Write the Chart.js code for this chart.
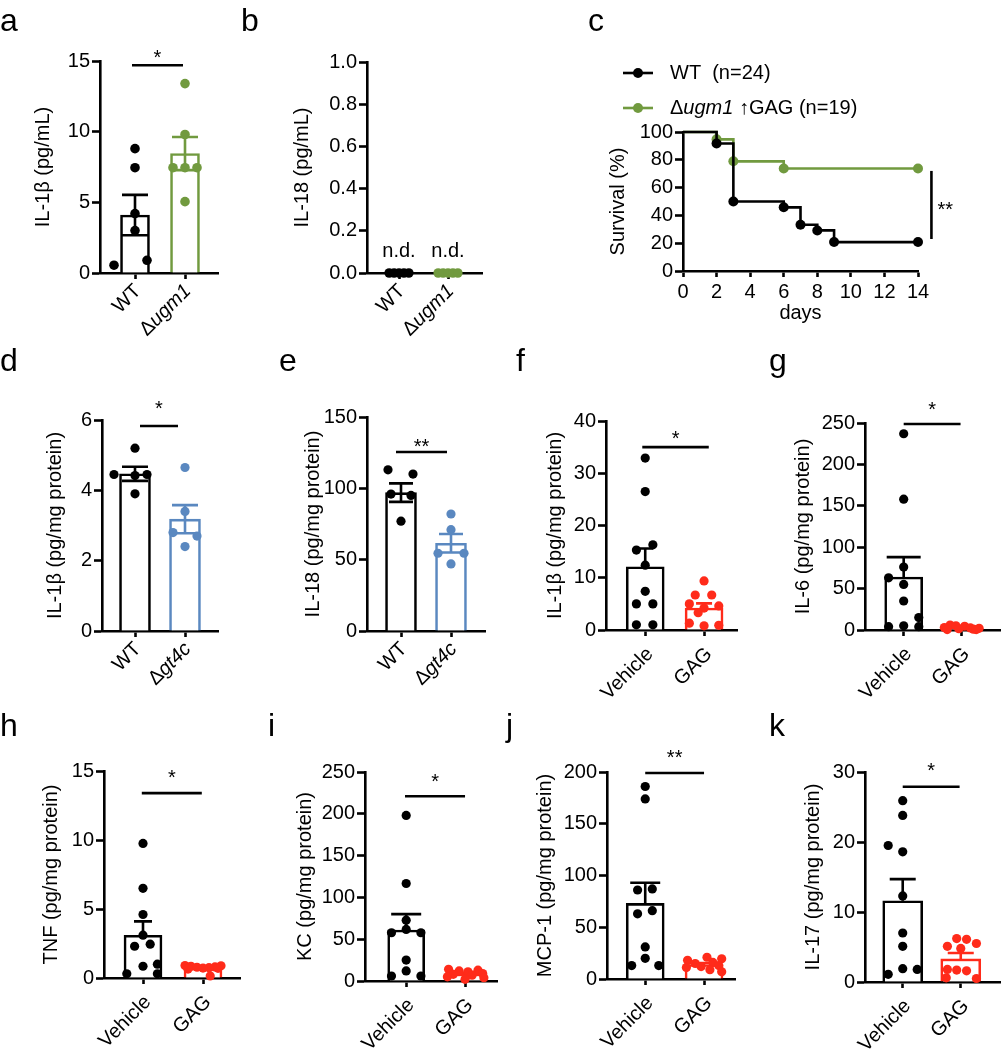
<!DOCTYPE html>
<html lang="en">
<head>
<meta charset="utf-8">
<title>Cytokines and survival</title>
<script src="https://cdn.jsdelivr.net/npm/chart.js"></script>
<style>
body { margin: 0; background: #fff; }
#fig { position: relative; width: 1005px; height: 1050px; overflow: hidden; }
#fig canvas { position: absolute; }
.tag { position: absolute; font: 32px "Liberation Sans", Arial, sans-serif; line-height: 1; }
</style>
</head>
<body>
<div id="fig"></div>

<script>
const FONT = '"Liberation Sans", Arial, Helvetica, sans-serif';
Chart.defaults.font.family = FONT;
Chart.defaults.color = '#000';

const BLACK = '#000000', GREEN = '#719a3f', BLUE = '#5a88c0', RED = '#ff2b1a';

// a - serum IL-1b
const aCats = ['WT', 'Δugm1'];
const aWT = [8.8, 7.45, 4.2, 3.0, 0.55, 0.9];
const aWTx = [0, 0, 0, 0, -0.42, 0.24];
const aKO = [13.4, 9.8, 7.45, 7.45, 7.45, 5.05];
const aKOx = [0, 0, -0.24, 0, 0.24, 0];
const aMean = [4.1, 8.45];
const aSem = [1.43, 1.17];

// b - serum IL-18, not detected
const bCats = ['WT', 'Δugm1'];
const bWT = [0, 0, 0, 0, 0];
const bKO = [0, 0, 0, 0, 0];
const bJit = [-0.2, -0.1, 0, 0.1, 0.2];

// c - survival
const cWTDays = [0, 2, 3, 6, 7, 8, 9, 14];
const cWT = [100, 91.7, 50, 45.8, 33.3, 29.2, 20.8, 20.8];
const cKODays = [0, 2, 3, 6, 14];
const cKO = [100, 94.7, 78.9, 73.7, 73.7];
const cNames = ['WT  (n=24)', 'Δugm1 ↑GAG (n=19)'];

// d - lung IL-1b
const dCats = ['WT', 'Δgt4c'];
const dWT = [5.2, 4.45, 4.45, 4.42, 3.9];
const dWTx = [0, -0.42, 0.24, 0, 0];
const dKO = [4.65, 3.4, 2.8, 2.7, 2.4];
const dKOx = [0, 0, -0.24, 0.24, 0];
const dMean = [4.47, 3.18];
const dSem = [0.2, 0.4];

// e - lung IL-18
const eWT = [113, 110, 96, 95, 77];
const eWTx = [-0.26, 0.24, -0.2, 0.2, 0];
const eKO = [82, 71, 54.5, 54.5, 47];
const eKOx = [0, 0, -0.26, 0.26, 0];
const eMean = [97, 61.5];
const eSem = [6.5, 6.5];

// f..k - vehicle vs GAG
const vgCats = ['Vehicle', 'GAG'];

const fVeh = [32.9, 26.5, 16.3, 15.3, 12.4, 7.4, 5.0, 5.0, 1.0, 1.0];
const fVehx = [0, 0, 0.13, -0.15, 0, 0, -0.15, 0.13, -0.15, 0.13];
const fGag = [9.4, 6.7, 6.7, 5.0, 4.6, 4.2, 3.3, 1.3, 0.9, 0.8];
const fGagx = [0, -0.15, 0.13, -0.25, 0.25, 0, -0.1, -0.25, 0.25, 0];
const fMean = [12.1, 4.2];
const fSem = [3.5, 0.9];

const gVeh = [237, 158, 76, 63, 55, 35, 15, 4, 5, 4];
const gVehx = [0, 0, 0, -0.26, 0, 0, 0.26, -0.26, 0, 0.26];
const gGag = [6, 5, 4.5, 3, 2.5, 2, 1.5, 1, 0.5, 0.5];
const gGagx = [-0.2, -0.1, 0.05, -0.3, 0.15, 0.3, -0.05, 0.2, 0.25, -0.25];
const gMean = [64, 2.8];
const gSem = [24, 0.6];

const hVeh = [9.75, 6.5, 4.6, 3.1, 2.3, 2.45, 0.85, 1.0, 0.3, 0.3];
const hVehx = [0, 0, 0, 0, -0.14, 0.12, 0, 0.24, -0.27, 0.24];
const hGag = [0.9, 0.88, 0.85, 0.8, 0.78, 0.75, 0.72, 0.7, 0.65, 0.15];
const hGagx = [-0.3, 0.3, -0.2, 0.2, -0.1, 0.1, 0, 0.25, -0.25, 0.12];
const hMean = [3.1, 0.72];
const hSem = [1.0, 0.07];

const iVeh = [198, 116.6, 72.8, 61.7, 57.7, 57.7, 25, 12, 6, 6];
const iVehx = [0, 0, 0, 0, -0.25, 0.25, 0, 0, -0.25, 0.25];
const iGag = [14, 13, 12, 11, 9, 8, 7, 5, 4, 2];
const iGagx = [-0.28, 0.22, -0.1, 0.05, 0.3, -0.2, 0.12, -0.3, 0.32, 0];
const iMean = [61, 8.5];
const iSem = [19, 1.3];

const jVeh = [186, 174, 86, 87, 63, 66, 31, 20, 13, 13];
const jVehx = [0, 0, -0.13, 0.12, -0.13, 0.12, 0, 0, -0.23, 0.23];
const jGag = [21, 19.5, 18, 16, 15, 13, 12, 11, 9, 7];
const jGagx = [0.05, 0.3, -0.28, 0.15, -0.15, 0.25, -0.05, -0.3, 0.1, 0.3];
const jMean = [73, 14];
const jSem = [20, 1.4];

const kVeh = [25.9, 23.8, 19.5, 18.6, 12.3, 7.0, 5.1, 1.9, 1.8, 1.1];
const kVehx = [0, 0, -0.25, 0, 0, 0, 0, 0, 0.25, -0.25];
const kGag = [6.2, 6.1, 5.5, 5.1, 4.8, 1.8, 1.7, 1.6, 0.6, 0.5];
const kGagx = [-0.07, 0.1, 0.27, -0.23, 0, -0.23, -0.07, 0.1, -0.25, 0.27];
const kMean = [11.6, 3.3];
const kSem = [3.1, 0.85];

const letters = [['a', 0, 4], ['b', 241, 4], ['c', 588, 4], ['d', 0, 344], ['e', 279, 344], ['f', 516, 344],
                 ['g', 769, 344], ['h', 0, 709], ['i', 268, 709], ['j', 506, 709], ['k', 769, 709]];

// ---------------------------------------------------------------

const fig = document.getElementById('fig');

function addCanvas(box) {
    const cv = document.createElement('canvas');
    cv.width = box[2]; cv.height = box[3];
    cv.style.left = box[0] + 'px'; cv.style.top = box[1] + 'px';
    cv.style.width = box[2] + 'px'; cv.style.height = box[3] + 'px';
    fig.appendChild(cv);
    return cv;
}

// 'Δgene rest' -> Δ upright, gene name italic, rest upright
function richText(ctx, text, x, y, size, align) {
    const m = text.match(/^(Δ)(\w+)(.*)$/);
    const parts = m ? [[m[1], 'normal '], [m[2], 'italic '], [m[3], 'normal ']] : [[text, 'normal ']];
    let w = 0;
    parts.forEach(p => { ctx.font = p[1] + size + 'px ' + FONT; w += ctx.measureText(p[0]).width; });
    let cx = align === 'right' ? x - w : x;
    ctx.textAlign = 'left';
    parts.forEach(p => {
        ctx.font = p[1] + size + 'px ' + FONT;
        ctx.fillText(p[0], cx, y);
        cx += ctx.measureText(p[0]).width;
    });
}

function yTitle(ctx, a, text, gap) {
    ctx.save();
    ctx.translate(a.left - gap, (a.top + a.bottom) / 2);
    ctx.rotate(-Math.PI / 2);
    ctx.textAlign = 'center';
    ctx.textBaseline = 'middle';
    ctx.font = '20px ' + FONT;
    ctx.fillText(text, 0, 0);
    ctx.restore();
}

// mean +/- SEM; some panels only show the upper half
function drawErr(chart, p) {
    const ctx = chart.ctx, xs = chart.scales.x, ys = chart.scales.y;
    ctx.save();
    ctx.lineWidth = 2.6;
    p.mean.forEach((m, i) => {
        const x = xs.getPixelForValue(i + 1);
        const y1 = ys.getPixelForValue(m + p.sem[i]);
        const y0 = ys.getPixelForValue(p.down ? Math.max(0, m - p.sem[i]) : m);
        ctx.strokeStyle = p.colors[i];
        ctx.beginPath();
        ctx.moveTo(x, y0); ctx.lineTo(x, y1);
        ctx.moveTo(x - p.cap, y1); ctx.lineTo(x + p.cap, y1);
        if (p.down) { ctx.moveTo(x - p.cap, y0); ctx.lineTo(x + p.cap, y0); }
        ctx.stroke();
    });
    ctx.restore();
}

function dotPanel(p) {
    const [L, T, W, H] = p.box;
    const sp = p.cx[1] - p.cx[0];
    const xmin = 1 - (p.cx[0] - p.area.left) / sp;
    const xmax = 2 + (p.area.right - p.cx[1]) / sp;

    const datasets = p.groups.map((g, gi) => ({
        type: 'scatter', order: 0, clip: false,
        data: g.y.map((v, i) => ({ x: gi + 1 + g.x[i], y: v })),
        backgroundColor: p.colors[gi], borderWidth: 0, pointRadius: p.r
    }));
    if (p.mean) datasets.push({
        type: 'bar', order: 5,
        data: p.mean.map((m, i) => ({ x: i + 1, y: m })),
        backgroundColor: '#fff', borderColor: p.colors, borderWidth: 2.6,
        barThickness: p.barW
    });

    const extras = {
        id: 'extras',
        afterDatasetDraw(chart, args) {
            if (args.meta.type === 'bar') drawErr(chart, p);
        },
        afterDraw(chart) {
            const ctx = chart.ctx, xs = chart.scales.x, ys = chart.scales.y, a = chart.chartArea;
            ctx.save();
            ctx.fillStyle = '#000';
            p.cats.forEach((c, i) => {
                ctx.save();
                ctx.translate(xs.getPixelForValue(i + 1) + p.lblDx, a.bottom + p.lblDy);
                ctx.rotate(-Math.PI / 4);
                ctx.textBaseline = 'middle';
                richText(ctx, c, 0, 0, 20, 'right');
                ctx.restore();
            });
            yTitle(ctx, a, p.title, p.titleGap);
            if (p.sig) {
                const y = ys.getPixelForValue(p.sig.y);
                const x1 = xs.getPixelForValue(p.sig.x1), x2 = xs.getPixelForValue(p.sig.x2);
                ctx.strokeStyle = '#000';
                ctx.lineWidth = 2.6;
                ctx.beginPath(); ctx.moveTo(x1, y); ctx.lineTo(x2, y); ctx.stroke();
                ctx.font = '20px ' + FONT;
                ctx.textAlign = 'center';
                ctx.textBaseline = 'middle';
                ctx.fillText(p.sig.text, (x1 + x2) / 2, y - p.sig.dy + 5);
            }
            if (p.nd) {
                ctx.font = '20px ' + FONT;
                ctx.textAlign = 'center';
                ctx.textBaseline = 'middle';
                p.cats.forEach((c, i) => ctx.fillText('n.d.', xs.getPixelForValue(i + 1), ys.getPixelForValue(p.nd)));
            }
            ctx.restore();
        }
    };

    new Chart(addCanvas(p.box), {
        type: 'scatter',
        data: { datasets },
        options: {
            responsive: false, animation: false, devicePixelRatio: 1,
            layout: { padding: { left: 0, top: p.area.top - T, right: L + W - p.area.right, bottom: 0 } },
            plugins: { legend: { display: false }, tooltip: { enabled: false } },
            scales: {
                x: {
                    type: 'linear', min: xmin, max: xmax, offset: false,
                    afterFit: s => { s.height = T + H - p.area.bottom; },
                    afterBuildTicks: s => { s.ticks = p.cats.map((c, i) => ({ value: i + 1 })); },
                    ticks: { display: false },
                    grid: { offset: false, drawOnChartArea: false, tickLength: 6, tickWidth: 2.6, color: '#000' },
                    border: { color: '#000', width: 2.6 }
                },
                y: {
                    min: 0, max: p.ymax,
                    afterFit: s => { s.width = p.area.left - L; },
                    ticks: {
                        stepSize: p.step, font: { size: 20 }, color: '#000', padding: 2,
                        callback: v => p.dec ? v.toFixed(p.dec) : v
                    },
                    grid: { drawOnChartArea: false, tickLength: 8, tickWidth: 2.6, color: '#000' },
                    border: { color: '#000', width: 2.6 }
                }
            }
        },
        plugins: [extras]
    });
}

// ---- panels ----

dotPanel({
    box: [0, 0, 240, 340], area: { left: 100, top: 61, bottom: 273, right: 218 }, cx: [135, 185],
    cats: aCats, colors: [BLACK, GREEN], ymax: 15, step: 5, r: 4.8, barW: 29, cap: 13, down: true,
    groups: [{ y: aWT, x: aWTx }, { y: aKO, x: aKOx }], mean: aMean, sem: aSem,
    sig: { y: 14.7, x1: 0.94, x2: 1.96, text: '*', dy: 12 },
    title: 'IL-1β (pg/mL)', titleGap: 57, lblDx: 3, lblDy: 15
});

dotPanel({
    box: [240, 0, 250, 340], area: { left: 367, top: 62, bottom: 273, right: 482 }, cx: [399, 448],
    cats: bCats, colors: [BLACK, GREEN], ymax: 1, step: 0.2, dec: 1, r: 4.8,
    groups: [{ y: bWT, x: bJit }, { y: bKO, x: bJit }], nd: 0.1,
    title: 'IL-18 (pg/mL)', titleGap: 65, lblDx: 3, lblDy: 15
});

dotPanel({
    box: [0, 340, 240, 360], area: { left: 102, top: 420, bottom: 631, right: 218 }, cx: [135, 185],
    cats: dCats, colors: [BLACK, BLUE], ymax: 6, step: 2, r: 4.6, barW: 31, cap: 13, down: true,
    groups: [{ y: dWT, x: dWTx }, { y: dKO, x: dKOx }], mean: dMean, sem: dSem,
    sig: { y: 5.83, x1: 1.1, x2: 1.86, text: '*', dy: 21 },
    title: 'IL-1β (pg/mg protein)', titleGap: 47, lblDx: 3, lblDy: 15
});

dotPanel({
    box: [240, 340, 250, 360], area: { left: 367, top: 417, bottom: 631, right: 485 }, cx: [401, 451],
    cats: dCats, colors: [BLACK, BLUE], ymax: 150, step: 50, r: 4.6, barW: 31, cap: 12, down: true,
    groups: [{ y: eWT, x: eWTx }, { y: eKO, x: eKOx }], mean: eMean, sem: eSem,
    sig: { y: 125.5, x1: 0.9, x2: 1.92, text: '**', dy: 9 },
    title: 'IL-18 (pg/mg protein)', titleGap: 54, lblDx: 3, lblDy: 15
});

dotPanel({
    box: [480, 340, 262, 360], area: { left: 606, top: 421, bottom: 630, right: 740 }, cx: [646, 706],
    cats: vgCats, colors: [BLACK, RED], ymax: 40, step: 10, r: 4.6, barW: 38, cap: 8,
    groups: [{ y: fVeh, x: fVehx }, { y: fGag, x: fGagx }], mean: fMean, sem: fSem,
    sig: { y: 35, x1: 0.95, x2: 2.08, text: '*', dy: 13 },
    title: 'IL-1β (pg/mg protein)', titleGap: 51, lblDx: 5, lblDy: 21
});

dotPanel({
    box: [730, 340, 275, 360], area: { left: 865, top: 423, bottom: 630, right: 1005 }, cx: [905, 965],
    cats: vgCats, colors: [BLACK, RED], ymax: 250, step: 50, r: 4.6, barW: 38, cap: 17,
    groups: [{ y: gVeh, x: gVehx }, { y: gGag, x: gGagx }], mean: gMean, sem: gSem,
    sig: { y: 248.8, x1: 1.0, x2: 1.98, text: '*', dy: 19 },
    title: 'IL-6 (pg/mg protein)', titleGap: 62, lblDx: 5, lblDy: 21
});

dotPanel({
    box: [0, 700, 245, 350], area: { left: 104, top: 771, bottom: 978, right: 240 }, cx: [143, 203],
    cats: vgCats, colors: [BLACK, RED], ymax: 15, step: 5, r: 4.6, barW: 38, cap: 9,
    groups: [{ y: hVeh, x: hVehx }, { y: hGag, x: hGagx }], mean: hMean, sem: hSem,
    sig: { y: 13.4, x1: 0.98, x2: 1.98, text: '*', dy: 20 },
    title: 'TNF (pg/mg protein)', titleGap: 53, lblDx: 5, lblDy: 21
});

dotPanel({
    box: [240, 700, 262, 350], area: { left: 365, top: 772, bottom: 981, right: 500 }, cx: [407, 467],
    cats: vgCats, colors: [BLACK, RED], ymax: 250, step: 50, r: 4.6, barW: 37, cap: 15,
    groups: [{ y: iVeh, x: iVehx }, { y: iGag, x: iGagx }], mean: iMean, sem: iSem,
    sig: { y: 221, x1: 0.98, x2: 2.0, text: '*', dy: 19 },
    title: 'KC (pg/mg protein)', titleGap: 60, lblDx: 5, lblDy: 21
});

dotPanel({
    box: [480, 700, 260, 350], area: { left: 607, top: 772, bottom: 979, right: 738 }, cx: [646, 706],
    cats: vgCats, colors: [BLACK, RED], ymax: 200, step: 50, r: 4.6, barW: 38, cap: 15,
    groups: [{ y: jVeh, x: jVehx }, { y: jGag, x: jGagx }], mean: jMean, sem: jSem,
    sig: { y: 199, x1: 1.0, x2: 2.0, text: '**', dy: 20 },
    title: 'MCP-1 (pg/mg protein)', titleGap: 62, lblDx: 5, lblDy: 21
});

dotPanel({
    box: [730, 700, 275, 350], area: { left: 865, top: 772, bottom: 982, right: 1005 }, cx: [904, 964],
    cats: vgCats, colors: [BLACK, RED], ymax: 30, step: 10, r: 4.6, barW: 40, cap: 13,
    groups: [{ y: kVeh, x: kVehx }, { y: kGag, x: kGagx }], mean: kMean, sem: kSem,
    sig: { y: 27.9, x1: 1.0, x2: 1.98, text: '*', dy: 20 },
    title: 'IL-17 (pg/mg protein)', titleGap: 52, lblDx: 5, lblDy: 21
});

// ---- c: survival curve ----
const cBox = [490, 0, 515, 340];
const cArea = { left: 683, top: 132, bottom: 271, right: 918 };

const cExtras = {
    id: 'cExtras',
    afterDraw(chart) {
        const ctx = chart.ctx, xs = chart.scales.x, ys = chart.scales.y, a = chart.chartArea;
        ctx.save();
        ctx.fillStyle = '#000';
        yTitle(ctx, a, 'Survival (%)', 65);
        ctx.font = '20px ' + FONT;
        ctx.textAlign = 'center';
        ctx.textBaseline = 'middle';
        ctx.fillText('days', (a.left + a.right) / 2, a.bottom + 42);
        // legend
        [BLACK, GREEN].forEach((col, i) => {
            const y = a.top - 59 + i * 35;
            ctx.strokeStyle = col; ctx.fillStyle = col; ctx.lineWidth = 2.6;
            ctx.beginPath(); ctx.moveTo(a.left - 60, y); ctx.lineTo(a.left - 30, y); ctx.stroke();
            ctx.beginPath(); ctx.arc(a.left - 45, y, 5, 0, Math.PI * 2); ctx.fill();
            ctx.fillStyle = '#000';
            ctx.textBaseline = 'middle';
            richText(ctx, cNames[i], a.left - 13, y, 20, 'left');
        });
        // log-rank mark
        const sx = xs.getPixelForValue(14.8);
        ctx.strokeStyle = '#000'; ctx.lineWidth = 2.6;
        ctx.beginPath(); ctx.moveTo(sx, ys.getPixelForValue(72)); ctx.lineTo(sx, ys.getPixelForValue(23)); ctx.stroke();
        ctx.font = '20px ' + FONT;
        ctx.textAlign = 'left';
        ctx.textBaseline = 'middle';
        ctx.fillText('**', sx + 6, ys.getPixelForValue(47) + 5);
        ctx.restore();
    }
};

new Chart(addCanvas(cBox), {
    type: 'line',
    data: {
        datasets: [
            {
                data: cWTDays.map((d, i) => ({ x: d, y: cWT[i] })), stepped: true, clip: false,
                borderColor: BLACK, borderWidth: 2.6, pointRadius: cWTDays.map((d, i) => i ? 5 : 0),
                pointBackgroundColor: BLACK, pointBorderWidth: 0
            },
            {
                data: cKODays.map((d, i) => ({ x: d, y: cKO[i] })), stepped: true, clip: false,
                borderColor: GREEN, borderWidth: 2.6, pointRadius: cKODays.map((d, i) => i ? 5 : 0),
                pointBackgroundColor: GREEN, pointBorderWidth: 0
            }
        ]
    },
    options: {
        responsive: false, animation: false, devicePixelRatio: 1,
        layout: { padding: { left: 0, top: cArea.top - cBox[1], right: cBox[0] + cBox[2] - cArea.right, bottom: 0 } },
        plugins: { legend: { display: false }, tooltip: { enabled: false } },
        scales: {
            x: {
                type: 'linear', min: 0, max: 14,
                afterFit: s => { s.height = cBox[1] + cBox[3] - cArea.bottom; },
                ticks: { stepSize: 2, font: { size: 20 }, color: '#000', padding: 3, maxRotation: 0 },
                grid: { drawOnChartArea: false, tickLength: 6, tickWidth: 2.6, color: '#000' },
                border: { color: '#000', width: 2.6 }
            },
            y: {
                min: 0, max: 100,
                afterFit: s => { s.width = cArea.left - cBox[0]; },
                ticks: { stepSize: 20, font: { size: 20 }, color: '#000', padding: 2 },
                grid: { drawOnChartArea: false, tickLength: 8, tickWidth: 2.6, color: '#000' },
                border: { color: '#000', width: 2.6 }
            }
        }
    },
    plugins: [cExtras]
});

// panel letters
letters.forEach(l => {
    const d = document.createElement('div');
    d.className = 'tag';
    d.textContent = l[0];
    d.style.left = l[1] + 'px';
    d.style.top = l[2] + 'px';
    fig.appendChild(d);
});
</script>
</body>
</html>
